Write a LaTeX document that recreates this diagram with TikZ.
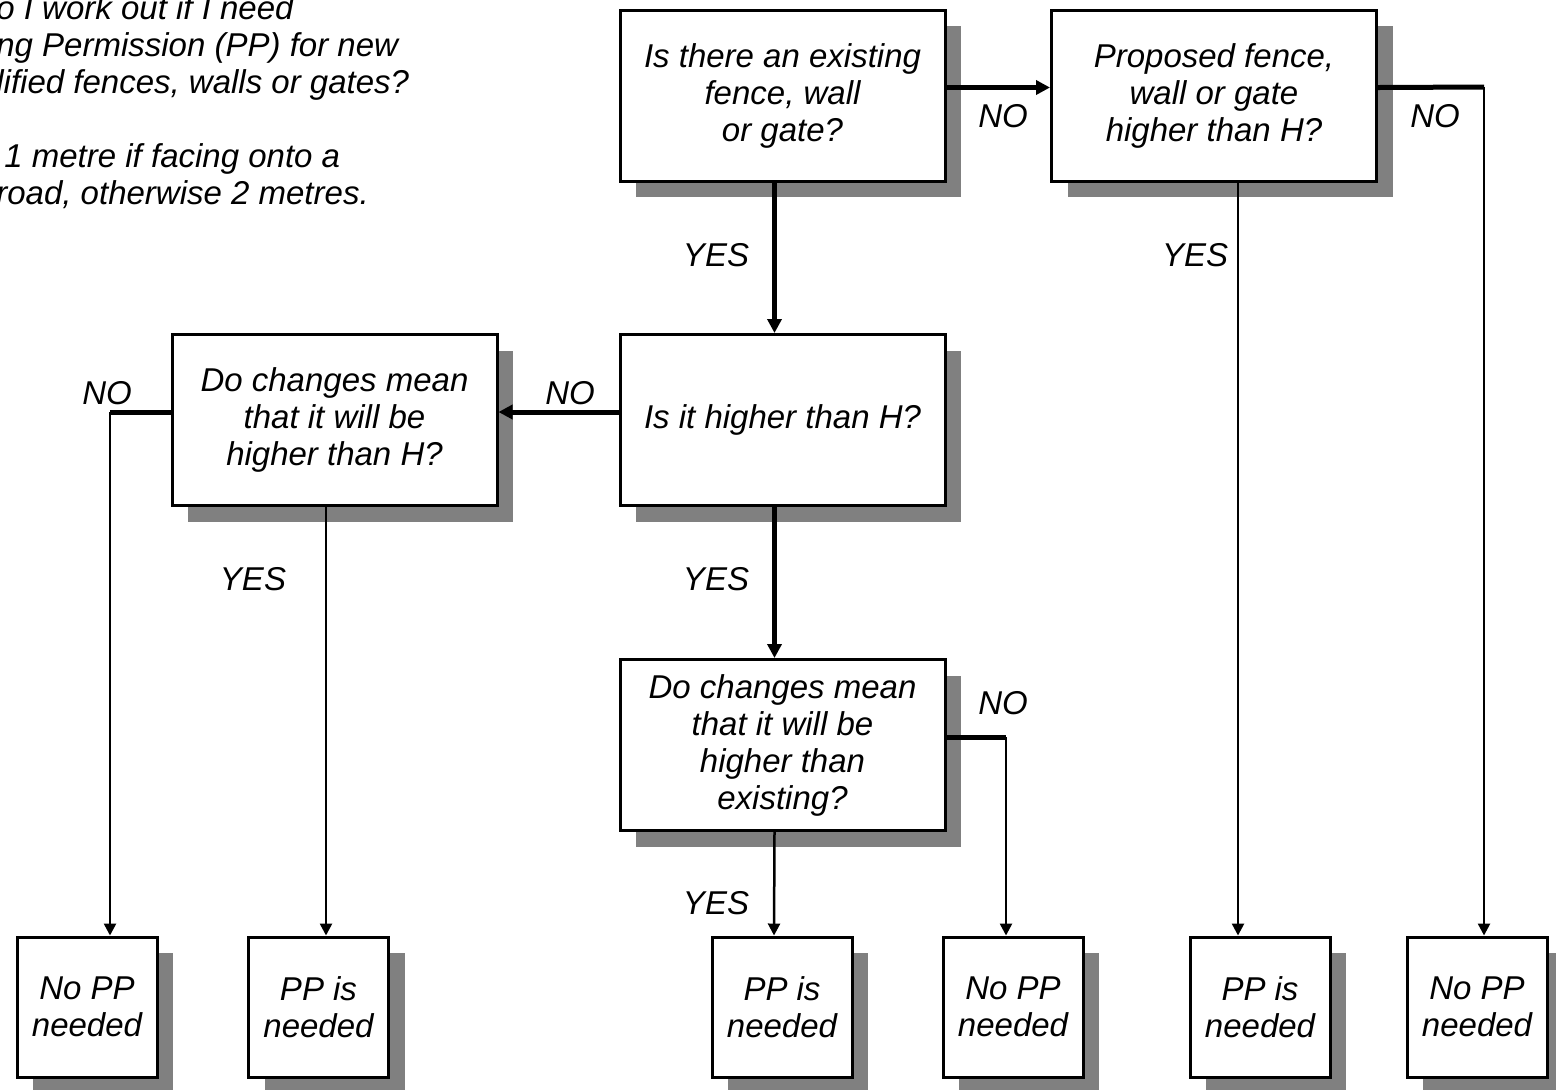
\documentclass[tikz,border=0pt]{standalone}
\usepackage{fontspec}
\setmainfont{Liberation Sans}
\usepackage{xcolor}
\usetikzlibrary{arrows.meta,shadows}
\begin{document}
\begin{tikzpicture}[x=0.5pt,y=-0.5pt,
    font=\fontsize{16.5}{18.5}\selectfont\itshape,
    qbox/.style={draw,line width=1.5pt,fill=white,align=center,inner sep=0pt,
      minimum width=162.5pt,minimum height=85.5pt,
      drop shadow={shadow xshift=8pt,shadow yshift=-8pt,opacity=1,fill=black!50}},
    ebox/.style={qbox,minimum width=70pt,minimum height=70pt},
    bline/.style={line width=2.5pt},
    fline/.style={line width=1.25pt},
    barrow/.style={bline,-{Triangle[length=7pt,width=7pt]}},
    farrow/.style={fline,-{Triangle[length=6pt,width=6pt]}},
    answer/.style={inner sep=0pt}]
  \useasboundingbox (0,0) rectangle (1556,1089);
  % intro text
  \node[anchor=north west,align=left,inner sep=0pt] (intro) at (-4,-5)
    {o I work out if I need\\
     ng Permission (PP) for new\\
     lified fences, walls or gates?\\[18.5pt]
     \hspace*{4pt}1 metre if facing onto a\\
     road, otherwise 2 metres.};
  % questions
  \node[qbox] (existing) at (782.5,95.5) {Is there an existing\\fence, wall\\or gate?};
  \node[qbox] (proposed) at (1214,95.5) {Proposed fence,\\wall or gate\\higher than H?};
  \node[qbox] (higher) at (782.5,420) {Is it higher than H?};
  \node[qbox] (changesH) at (334.5,420) {Do changes mean\\that it will be\\higher than H?};
  \node[qbox] (changesE) at (782.5,745) {Do changes mean\\that it will be\\higher than\\existing?};
  % outcomes
  \node[ebox] (endA) at (87,1007) {No PP\\needed};
  \node[ebox] (endB) at (318.5,1007) {PP is\\needed};
  \node[ebox] (endC) at (782,1007) {PP is\\needed};
  \node[ebox] (endD) at (1013,1007) {No PP\\needed};
  \node[ebox] (endE) at (1260,1007) {PP is\\needed};
  \node[ebox] (endF) at (1477,1007) {No PP\\needed};
  % corners and columns
  \coordinate (cornerB) at (1484,87);
  \coordinate (cornerD) at (110,412);
  \coordinate (cornerE) at (1006,737);
  \coordinate (colB) at (1238,0);
  \coordinate (colD) at (326,0);
  % connectors
  \draw[barrow] ([xshift=-4pt]existing.south) -- ([xshift=-4pt]higher.north);
  \draw[barrow] ([yshift=4pt]existing.east) -- ([yshift=4pt]proposed.west);
  \draw[bline] ([yshift=4pt]proposed.east) -- (cornerB);
  \draw[farrow] (cornerB) -- (endF.north -| cornerB);
  \draw[farrow] (proposed.south -| colB) -- (endE.north -| colB);
  \draw[barrow] ([yshift=4pt]higher.west) -- ([yshift=4pt]changesH.east);
  \draw[barrow] ([xshift=-4pt]higher.south) -- ([xshift=-4pt]changesE.north);
  \draw[bline] ([yshift=4pt]changesH.west) -- (cornerD);
  \draw[farrow] (cornerD) -- (endA.north -| cornerD);
  \draw[farrow] (changesH.south -| colD) -- (endB.north -| colD);
  \draw[farrow] ([xshift=-4pt]changesE.south) -- ([xshift=-4pt]endC.north);
  \draw[bline] ([yshift=4pt]changesE.east) -- (cornerE);
  \draw[farrow] (cornerE) -- (endD.north -| cornerE);
  % labels
  \node[answer] (yesA) at (716,255) {YES};
  \node[answer] (noA) at (1003,116) {NO};
  \node[answer] (noB) at (1435,116) {NO};
  \node[answer] (yesB) at (1195,255) {YES};
  \node[answer] (noC) at (570,393) {NO};
  \node[answer] (yesC) at (716,579) {YES};
  \node[answer] (noD) at (107,393) {NO};
  \node[answer] (yesD) at (253,579) {YES};
  \node[answer] (yesE) at (716,903) {YES};
  \node[answer] (noE) at (1003,703) {NO};
\end{tikzpicture}
\end{document}
